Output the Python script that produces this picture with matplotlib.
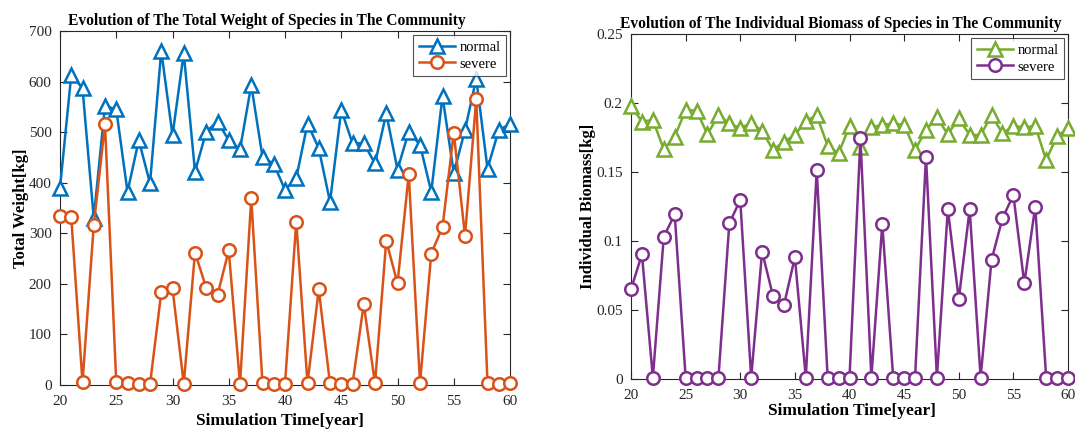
import matplotlib
matplotlib.use("Agg")
import matplotlib.pyplot as plt
from matplotlib.ticker import MultipleLocator, FuncFormatter

plt.rcParams['font.family'] = ['Liberation Serif', 'DejaVu Serif']

years = list(range(20, 61))

weight_normal = [390, 613, 587, 330, 552, 545, 382, 484, 399, 661,
                 494, 656, 422, 501, 521, 484, 466, 593, 451, 437,
                 386, 409, 517, 468, 362, 544, 478, 478, 438, 537,
                 426, 501, 475, 382, 571, 419, 504, 606, 428, 504, 516]
weight_severe = [334, 332, 5, 316, 516, 5, 3, 1, 1, 183,
                 191, 2, 262, 192, 178, 266, 2, 369, 3, 2,
                 2, 323, 3, 189, 3, 2, 2, 160, 3, 285,
                 201, 417, 3, 260, 312, 499, 295, 565, 3, 2, 3]

biomass_normal = [0.198, 0.1865, 0.1877, 0.1664, 0.1756, 0.1949, 0.1944, 0.1773, 0.1913, 0.1853,
                  0.1816, 0.1857, 0.1797, 0.1660, 0.1720, 0.1768, 0.1870, 0.1910, 0.1690, 0.1635,
                  0.1833, 0.1684, 0.1824, 0.1840, 0.1853, 0.1840, 0.1660, 0.1804, 0.1896, 0.1773,
                  0.1889, 0.1768, 0.1768, 0.1910, 0.1780, 0.1833, 0.1824, 0.1833, 0.1587, 0.1760, 0.1816]
biomass_severe = [0.065, 0.0903, 0.001, 0.1031, 0.1193, 0.001, 0.001, 0.0005, 0.0005, 0.1128,
                  0.1297, 0.001, 0.0923, 0.0601, 0.0536, 0.0882, 0.001, 0.1514, 0.001, 0.0005,
                  0.0005, 0.1744, 0.001, 0.1123, 0.001, 0.0005, 0.001, 0.1611, 0.001, 0.1230,
                  0.0577, 0.1230, 0.001, 0.0862, 0.1164, 0.1333, 0.0693, 0.1249, 0.001, 0.0005, 0.0005]

titles = ["Evolution of The Total Weight of Species in The Community",
          "Evolution of The Individual Biomass of Species in The Community"]
ylabels = ["Total Weight[kg]", "Individual Biomass[kg]"]
xlabel = "Simulation Time[year]"
legend_labels = ["normal", "severe"]

fig = plt.figure(figsize=(10.75, 4.29), dpi=100)
W, H = 1075, 429
ax1 = fig.add_axes([60 / W, 1 - 385 / H, 450 / W, 354 / H])
ax2 = fig.add_axes([631 / W, 1 - 379 / H, 437 / W, 345 / H])

specs = [
    (ax1, weight_normal, weight_severe, '#0072BD', '#D95319', (0, 700), 100,
     0.459, (0.489, -0.079)),
    (ax2, biomass_normal, biomass_severe, '#77AC30', '#7E2F8E', (0, 0.25), 0.05,
     0.48, (0.506, -0.070)),
]

for i, (ax, yn, ys, cn, cs, ylim, ystep, tx, lxy) in enumerate(specs):
    ax.plot(years, yn, color=cn, lw=1.8, marker='^', ms=10, mfc='white',
            mew=1.8, label=legend_labels[0], clip_on=False, zorder=3)
    ax.plot(years, ys, color=cs, lw=1.8, marker='o', ms=9, mfc='white',
            mew=1.8, label=legend_labels[1], clip_on=False, zorder=3)
    ax.set_xlim(20, 60)
    ax.set_ylim(*ylim)
    ax.xaxis.set_major_locator(MultipleLocator(5))
    ax.yaxis.set_major_locator(MultipleLocator(ystep))
    ax.tick_params(direction='in', top=True, right=True, length=5,
                   width=0.8, labelsize=11, colors='#262626')
    ax.tick_params(axis='x', pad=7)
    ax.tick_params(axis='y', pad=6)
    for sp in ax.spines.values():
        sp.set_color('#262626')
        sp.set_linewidth(0.8)
    ax.set_title(titles[i], fontsize=11.2, fontweight='bold', pad=4, x=tx)
    ax.set_xlabel(xlabel, fontsize=12.5, fontweight='bold')
    ax.xaxis.set_label_coords(*lxy)
    ax.set_ylabel(ylabels[i], fontsize=12, fontweight='bold', labelpad=0)
    leg = ax.legend(loc='upper right', fontsize=10.5, frameon=True, fancybox=False,
                    edgecolor='#262626', handlelength=2.5, borderpad=0.35,
                    labelspacing=0.25, handletextpad=0.3, borderaxespad=0.3)
    leg.get_frame().set_linewidth(0.8)
    leg.set_zorder(5)

ax2.yaxis.set_major_formatter(FuncFormatter(
    lambda v, p: '0' if v == 0 else ('%.2f' % v).rstrip('0')))

fig.savefig("out.png", dpi=100)
